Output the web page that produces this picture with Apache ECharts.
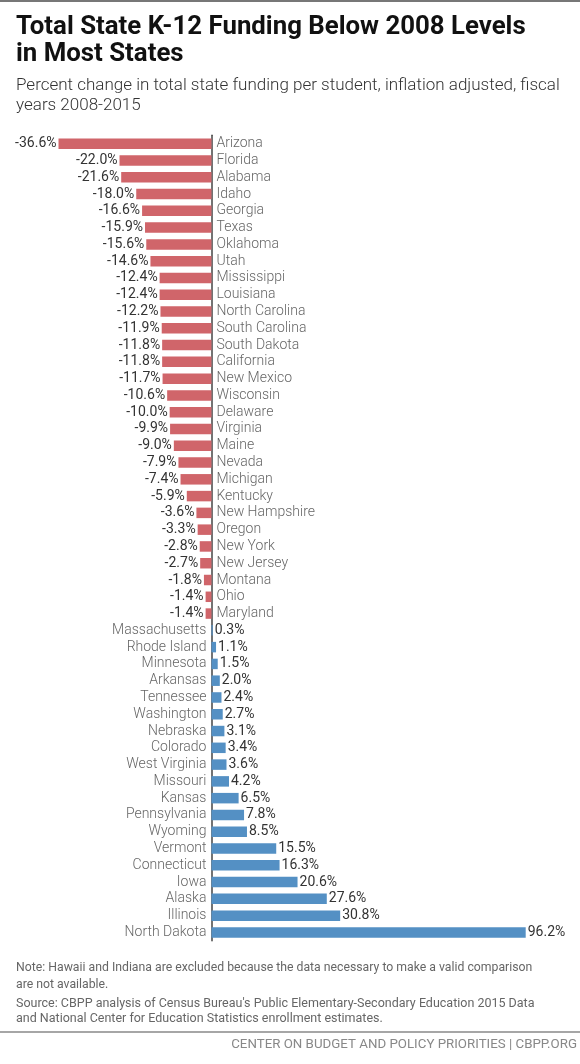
<!DOCTYPE html>
<html>
<head>
<meta charset="utf-8">
<script src="https://cdn.jsdelivr.net/npm/echarts@6/dist/echarts.min.js"></script>
<style>
html,body{margin:0;padding:0;background:#fff;}
#chart{width:580px;height:1064px;}
</style>
</head>
<body>
<div id="chart"></div>
<script>
const states = ['Arizona','Florida','Alabama','Idaho','Georgia','Texas','Oklahoma','Utah','Mississippi','Louisiana','North Carolina','South Carolina','South Dakota','California','New Mexico','Wisconsin','Delaware','Virginia','Maine','Nevada','Michigan','Kentucky','New Hampshire','Oregon','New York','New Jersey','Montana','Ohio','Maryland','Massachusetts','Rhode Island','Minnesota','Arkansas','Tennessee','Washington','Nebraska','Colorado','West Virginia','Missouri','Kansas','Pennsylvania','Wyoming','Vermont','Connecticut','Iowa','Alaska','Illinois','North Dakota'];
const values = [-36.6,-22.0,-21.6,-18.0,-16.6,-15.9,-15.6,-14.6,-12.4,-12.4,-12.2,-11.9,-11.8,-11.8,-11.7,-10.6,-10.0,-9.9,-9.0,-7.9,-7.4,-5.9,-3.6,-3.3,-2.8,-2.7,-1.8,-1.4,-1.4,0.3,1.1,1.5,2.0,2.4,2.7,3.1,3.4,3.6,4.2,6.5,7.8,8.5,15.5,16.3,20.6,27.6,30.8,96.2];

const titleText = 'Total State K-12 Funding Below 2008 Levels\nin Most States';
const subtitleText = 'Percent change in total state funding per student, inflation adjusted, fiscal\nyears 2008-2015';
const noteText = 'Note: Hawaii and Indiana are excluded because the data necessary to make a valid comparison\nare not available.';
const sourceText = "Source: CBPP analysis of Census Bureau's Public Elementary-Secondary Education 2015 Data\nand National Center for Education Statistics enrollment estimates.";
const footerText = 'CENTER ON BUDGET AND POLICY PRIORITIES | CBPP.ORG';

const NEG = '#d0656a', POS = '#5490c4';
const FONT = 'Roboto';

const chart = echarts.init(document.getElementById('chart'), null, {renderer:'canvas'});
chart.setOption({
  backgroundColor: '#fff',
  animation: false,
  title: [
    {text: titleText, left: 11, top: 9,
     textStyle:{fontFamily: FONT, fontWeight: 700, fontSize: 25.8, lineHeight: 27, color:'#111'}},
    {text: subtitleText, left: 11, top: 71,
     textStyle:{fontFamily: FONT, fontWeight: 300, fontSize: 17, lineHeight: 20, color:'#333'}},
    {text: noteText, left: 11, top: 955,
     textStyle:{fontFamily: FONT, fontWeight: 400, fontSize: 12.25, lineHeight: 16.5, color:'#666'}},
    {text: sourceText, left: 11, top: 991,
     textStyle:{fontFamily: FONT, fontWeight: 400, fontSize: 12.5, lineHeight: 15.5, color:'#666'}}
  ],
  graphic: [
    {type:'line', shape:{x1:0,y1:1,x2:580,y2:1}, style:{stroke:'#777', lineWidth:2}},
    {type:'line', shape:{x1:0,y1:1032,x2:580,y2:1032}, style:{stroke:'#888', lineWidth:1.5}},
    {type:'text', right: 3, top: 1038, style:{text: footerText, font: '400 13.3px Roboto', fill:'#888'}}
  ],
  grid: {left: 44.3, top: 135.3, width: 481.4, height: 805.5, outerBoundsMode: 'none'},
  xAxis: {type:'value', min: -40, max: 75.2, show: false},
  yAxis: {type:'category', data: states, inverse: true,
    axisLine:{show:true, onZero:true, lineStyle:{color:'#444', width:1.5}},
    axisTick:{show:false}, axisLabel:{show:false}, splitLine:{show:false}},
  series: [
    {type:'bar', barWidth: 10.5, z: 3,
     data: values.map(v => ({value: v, itemStyle:{color: v < 0 ? NEG : POS}, label:{position: v < 0 ? 'left' : 'right'}})),
     label:{show:true, distance: 2, fontFamily: FONT, fontSize: 14, color:'#333',
            formatter: p => p.value.toFixed(1) + '%'}},
    {type:'bar', barWidth: 10.5, barGap:'-100%', z: 1, silent: true,
     data: values.map(v => ({value: v, label:{position: v < 0 ? 'right' : 'left'}})),
     itemStyle:{color:'rgba(0,0,0,0)'},
     label:{show:true, distance: 5, fontFamily: FONT, fontWeight: 300, fontSize: 14, color:'#666', formatter:'{b}'}}
  ]
});
</script>
</body>
</html>
